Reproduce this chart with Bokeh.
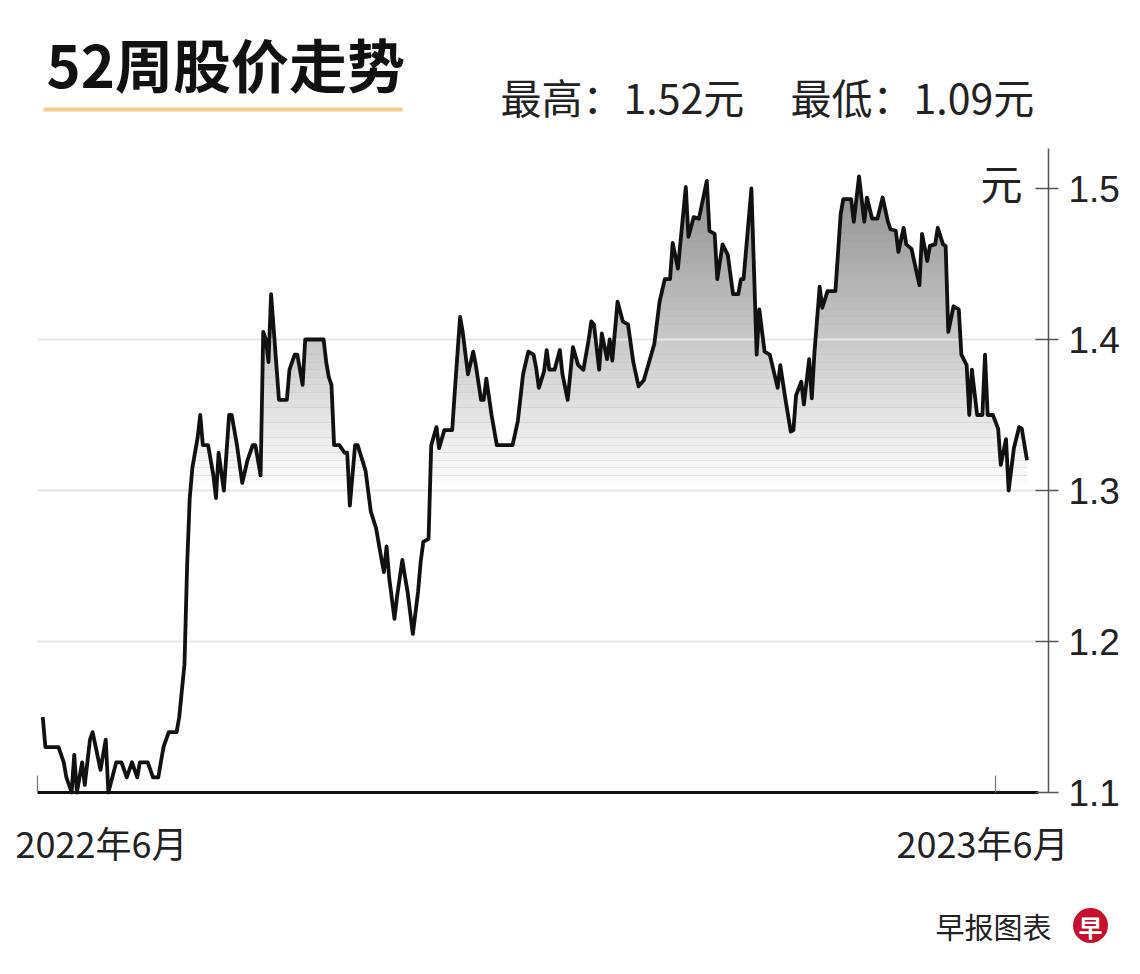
import numpy as np
from bokeh.plotting import figure
from bokeh.layouts import column
from bokeh.models import Range1d, FixedTicker, PrintfTickFormatter
from bokeh.core.properties import value
from bokeh.embed import file_html
from bokeh.resources import INLINE

# ---- data ----
# x: days since 2022-06-01, y: share price in 元
days = [
    2, 3, 8, 10, 11, 13, 14, 15, 17, 18,
    20, 21, 24, 25, 26, 27, 30, 32, 34, 36,
    38, 39, 42, 44, 46, 48, 50, 53, 54, 56,
    57, 58, 59, 61, 62, 63, 65, 67, 68, 69,
    71, 73, 74, 76, 78, 80, 82, 83, 85, 86,
    87, 88, 89, 92, 94, 95, 96, 98, 99, 101,
    102, 109, 110, 111, 112, 113, 115, 117, 118, 119,
    120, 121, 122, 125, 127, 129, 131, 132, 133, 134,
    136, 137, 139, 140, 141, 143, 145, 146, 147, 149,
    150, 152, 153, 155, 158, 159, 161, 162, 164, 166,
    167, 169, 170, 171, 173, 175, 181, 183, 185, 187,
    189, 190, 191, 193, 194, 195, 197, 199, 200, 202,
    204, 206, 208, 210, 211, 212, 214, 215, 217, 218,
    219, 221, 223, 225, 227, 229, 231, 235, 237, 239,
    241, 242, 244, 247, 248, 250, 252, 255, 256, 258,
    259, 261, 263, 265, 267, 268, 269, 272, 274, 275,
    277, 279, 282, 283, 285, 287, 288, 289, 291, 292,
    294, 295, 296, 298, 299, 301, 304, 306, 307, 310,
    311, 313, 315, 316, 318, 320, 322, 324, 325, 327,
    328, 330, 331, 333, 334, 336, 337, 339, 340, 342,
    343, 345, 346, 347, 349, 351, 352, 354, 355, 356,
    358, 360, 361, 362, 364, 366, 367, 369, 370, 372,
    374, 375, 377,
]
prices = [
    1.15, 1.13, 1.13, 1.12, 1.11, 1.10, 1.125, 1.10, 1.12, 1.105,
    1.135, 1.14, 1.115, 1.125, 1.135, 1.10, 1.12, 1.12, 1.11, 1.12,
    1.11, 1.12, 1.12, 1.11, 1.11, 1.13, 1.14, 1.14, 1.15, 1.185,
    1.25, 1.295, 1.315, 1.335, 1.35, 1.33, 1.33, 1.31, 1.295, 1.325,
    1.30, 1.35, 1.35, 1.33, 1.305, 1.32, 1.33, 1.33, 1.31, 1.405,
    1.40, 1.385, 1.43, 1.36, 1.36, 1.36, 1.38, 1.39, 1.39, 1.37,
    1.40, 1.40, 1.385, 1.375, 1.37, 1.33, 1.33, 1.325, 1.325, 1.29,
    1.31, 1.33, 1.33, 1.313, 1.286, 1.275, 1.255, 1.246, 1.263, 1.242,
    1.215, 1.23, 1.254, 1.243, 1.233, 1.205, 1.233, 1.253, 1.266, 1.268,
    1.33, 1.342, 1.328, 1.34, 1.34, 1.366, 1.415, 1.405, 1.377, 1.392,
    1.383, 1.36, 1.36, 1.374, 1.35, 1.33, 1.33, 1.346, 1.377, 1.392,
    1.39, 1.381, 1.368, 1.379, 1.393, 1.38, 1.38, 1.393, 1.377, 1.36,
    1.395, 1.383, 1.38, 1.40, 1.412, 1.41, 1.38, 1.404, 1.387, 1.40,
    1.386, 1.425, 1.412, 1.41, 1.385, 1.369, 1.373, 1.397, 1.425, 1.44,
    1.44, 1.464, 1.447, 1.501, 1.468, 1.481, 1.48, 1.505, 1.472, 1.47,
    1.44, 1.463, 1.456, 1.43, 1.43, 1.44, 1.44, 1.50, 1.39, 1.42,
    1.392, 1.39, 1.368, 1.383, 1.36, 1.339, 1.34, 1.363, 1.372, 1.357,
    1.387, 1.361, 1.391, 1.435, 1.421, 1.432, 1.432, 1.483, 1.493, 1.493,
    1.478, 1.508, 1.478, 1.494, 1.48, 1.48, 1.494, 1.478, 1.473, 1.472,
    1.458, 1.474, 1.463, 1.46, 1.452, 1.436, 1.47, 1.452, 1.462, 1.463,
    1.474, 1.463, 1.462, 1.405, 1.422, 1.42, 1.39, 1.383, 1.35, 1.38,
    1.35, 1.35, 1.39, 1.35, 1.35, 1.341, 1.317, 1.334, 1.30, 1.328,
    1.342, 1.341, 1.32,
]
y_ticks = [1.1, 1.2, 1.3, 1.4, 1.5]
grid_levels = [1.2, 1.3, 1.4]
fill_base = 1.3
month_ticks = [0, 365]
month_labels = ["2022年6月", "2023年6月"]
title_text = "52周股价走势"
high_text = "最高：1.52元"
low_text = "最低：1.09元"
unit_text = "元"
source_text = "早报图表"
logo_text = "早"

CJK = "Noto Sans CJK SC"
TXT = "#222222"
W = 1132

# ---- chart geometry (page pixel -> data position) ----
PX_DAY = 2.6247
PX_VAL = 1510.0
def dx(px):
    return (px - 37) / PX_DAY
def dy(py):
    return 1.5 - (py - 188) / PX_VAL

CHART_TOP, CHART_BOTTOM, AXIS_X, PAGE_BOTTOM = 148, 813, 1048, 966


def blank(height, y_top, y_bottom):
    f = figure(width=W, height=height, x_range=Range1d(0, W), y_range=Range1d(y_bottom, y_top),
               x_axis_location=None, y_axis_location=None, toolbar_location=None,
               output_backend="svg", min_border=0, outline_line_color=None,
               background_fill_color="white", border_fill_color="white", frame_align=False)
    f.xgrid.visible = False
    f.ygrid.visible = False
    return f


# ---------------- header ----------------
head = blank(CHART_TOP, 0, CHART_TOP)
head.text(x=[46], y=[62], text=[title_text], text_font=value(CJK), text_font_style="bold",
          text_font_size="58px", text_color="#111111", text_baseline="middle")
head.quad(left=[43], right=[402], top=[107], bottom=[111], fill_color="#F3CB8A", line_color=None)
head.text(x=[500, 790], y=[95, 95], text=[high_text, low_text], text_font=value(CJK),
          text_font_size="41px", text_color=TXT, text_baseline="middle")

# ---------------- chart ----------------
p = figure(
    width=W, height=CHART_BOTTOM - CHART_TOP,
    x_range=Range1d(dx(0), dx(AXIS_X)), y_range=Range1d(dy(CHART_BOTTOM), dy(CHART_TOP)),
    x_axis_location=None, y_axis_location="right",
    toolbar_location=None, output_backend="svg",
    min_border_left=0, min_border_right=W - AXIS_X, min_border_top=0, min_border_bottom=0,
    outline_line_color=None, background_fill_color="white", border_fill_color="white",
    frame_align=False,
)
p.xgrid.visible = False
p.ygrid.visible = False

ax = p.yaxis[0]
ax.bounds = (y_ticks[0], dy(CHART_TOP))
ax.ticker = FixedTicker(ticks=y_ticks)
ax.formatter = PrintfTickFormatter(format="%.1f")
ax.axis_line_color = "#555555"
ax.axis_line_width = 1.5
ax.major_tick_line_color = "#555555"
ax.major_tick_line_width = 1.5
ax.major_tick_in = 13
ax.major_tick_out = 10
ax.minor_tick_line_color = None
ax.major_label_standoff = 10
ax.major_label_text_font = "Liberation Sans"
ax.major_label_text_font_size = "37px"
ax.major_label_text_color = TXT

pr = np.array(prices, dtype=float)
x_lo, x_hi = dx(0), dx(AXIS_X)

# area between price line and 1.3, darkest at the top, fading to white at 1.3
p.varea(x=days, y1=fill_base, y2=np.maximum(pr, fill_base), fill_color="#939393")
edges = np.arange(fill_base, 1.5151, 0.005)
lows, highs = edges[:-1], edges[1:]
alphas = np.clip(1.0 - ((lows + highs) / 2 - fill_base) / 0.2, 0, 1)
p.quad(left=x_lo, right=x_hi, bottom=lows, top=highs, fill_color="white",
       fill_alpha=alphas, line_color=None)

# faint horizontal grid
p.segment(x0=[dx(37)] * len(grid_levels), y0=grid_levels, x1=[dx(1035)] * len(grid_levels),
          y1=grid_levels, line_color="#e6e6e6", line_width=2)

# price line
p.line(days, prices, line_color="#111111", line_width=3.8, line_join="round")

# baseline and month ticks
p.segment(x0=[dx(37)], y0=[y_ticks[0]], x1=[dx(1038)], y1=[y_ticks[0]],
          line_color="#111111", line_width=3)
p.segment(x0=month_ticks, y0=[y_ticks[0]] * 2, x1=month_ticks, y1=[dy(775)] * 2,
          line_color="#777777", line_width=1.2)

# unit label
p.text(x=[dx(1022)], y=[dy(181)], text=[unit_text], text_font=value(CJK),
       text_font_size="42px", text_color=TXT, text_align="right", text_baseline="middle")

# ---------------- footer ----------------
foot = blank(PAGE_BOTTOM - CHART_BOTTOM, CHART_BOTTOM, PAGE_BOTTOM)
foot.text(x=[15], y=[841], text=[month_labels[0]], text_font=value(CJK),
          text_font_size="36px", text_color=TXT, text_align="left", text_baseline="middle")
foot.text(x=[1068], y=[841], text=[month_labels[1]], text_font=value(CJK),
          text_font_size="36px", text_color=TXT, text_align="right", text_baseline="middle")
foot.text(x=[935], y=[925], text=[source_text], text_font=value(CJK),
          text_font_size="29px", text_color=TXT, text_baseline="middle")
foot.scatter(x=[1090], y=[925], size=35, marker="circle", fill_color="#C8102E", line_color=None)
foot.text(x=[1090], y=[926], text=[logo_text], text_font=value(CJK), text_font_style="bold",
          text_font_size="24px", text_color="white", text_align="center", text_baseline="middle")

layout = column(head, p, foot, spacing=0)
open("out.html", "w").write(file_html(layout, INLINE))
